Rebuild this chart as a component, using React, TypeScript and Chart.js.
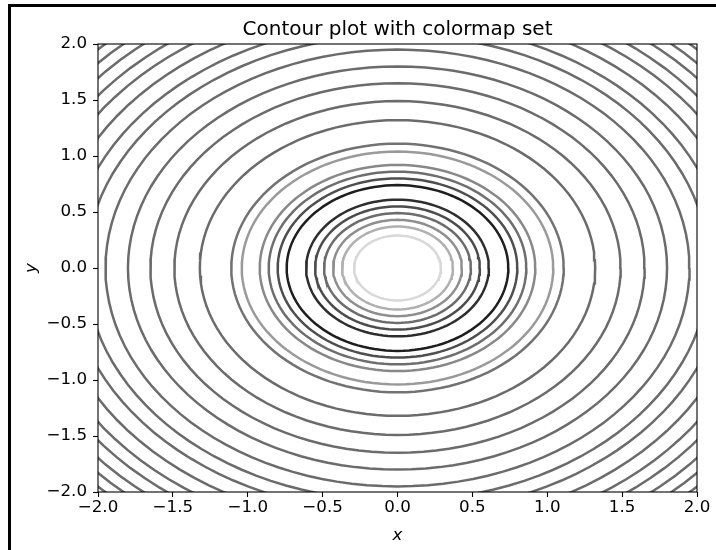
import { useEffect, useRef } from "react";
import { Chart, registerables } from "chart.js";

Chart.register(...registerables);

const chartTitle = "Contour plot with colormap set";
const xAxisLabel = "x";
const yAxisLabel = "y";
const axisMin = -2;
const axisMax = 2;
const tickStep = 0.5;

// Radius of each contour level, outermost first
const contourRadii = [
  2.795, 2.711, 2.623, 2.524, 2.427, 2.313, 2.191, 2.08, 1.95, 1.8, 1.65, 1.49,
  1.32, 1.11, 1.04, 0.92, 0.86, 0.8, 0.74, 0.61, 0.55, 0.49, 0.43, 0.37, 0.29,
];

// Grey of each contour level (same order as the radii)
const contourColors = [
  "#6b6b6b", "#6b6b6b", "#6b6b6b", "#6b6b6b", "#6b6b6b", "#6b6b6b", "#6b6b6b",
  "#6b6b6b", "#6b6b6b", "#6b6b6b", "#6b6b6b", "#6b6b6b", "#6b6b6b", "#727272",
  "#9a9a9a", "#888888", "#6e6e6e", "#4e4e4e", "#1e1e1e", "#2e2e2e", "#4c4c4c",
  "#6c6c6c", "#8e8e8e", "#b0b0b0", "#d8d8d8",
];

const FONT = "'DejaVu Sans', sans-serif";
const SEGMENTS = 120;

function ringPoints(r: number) {
  const pts: { x: number; y: number }[] = [];
  for (let i = 0; i <= SEGMENTS; i++) {
    const a = (i / SEGMENTS) * Math.PI * 2;
    pts.push({ x: r * Math.cos(a), y: r * Math.sin(a) });
  }
  return pts;
}

const fmtTick = (v: number | string) => {
  const n = Number(v);
  const s = Math.abs(n).toFixed(1);
  return n < -1e-9 ? "\u2212" + s : s;
};

// Figure edge on the top and left, plus the four axes spines
const framePlugin = {
  id: "frame",
  afterDatasetsDraw(chart: Chart) {
    const { ctx, chartArea } = chart;
    ctx.save();
    ctx.strokeStyle = "#000";
    ctx.lineWidth = 1.1;
    ctx.strokeRect(
      chartArea.left,
      chartArea.top,
      chartArea.right - chartArea.left,
      chartArea.bottom - chartArea.top
    );
    ctx.restore();
  },
  afterDraw(chart: Chart) {
    const { ctx, width, height } = chart;
    ctx.save();
    ctx.fillStyle = "#000";
    ctx.fillRect(8, 4, width - 8, 3);
    ctx.fillRect(8, 4, 3, height - 4);
    ctx.restore();
  },
};

export default function App() {
  const canvasRef = useRef<HTMLCanvasElement | null>(null);

  useEffect(() => {
    const canvas = canvasRef.current;
    if (!canvas) return;

    const datasets = contourRadii.map((r, i) => ({
      label: `level ${i}`,
      data: ringPoints(r),
      borderColor: contourColors[i],
      borderWidth: 2.5,
      pointRadius: 0,
      pointHoverRadius: 0,
      fill: false,
      tension: 0,
      showLine: true,
      clip: 0,
    }));

    const tickFont = { family: FONT, size: 16.7, lineHeight: 1 };
    const titleFont = { family: FONT, size: 16.7, style: "italic" as const };

    const chart = new Chart(canvas, {
      type: "scatter",
      data: { datasets },
      options: {
        animation: false,
        responsive: false,
        events: [],
        layout: { padding: { left: 0, right: 19, top: 0, bottom: 0 } },
        plugins: {
          legend: { display: false },
          tooltip: { enabled: false },
          title: {
            display: true,
            fullSize: false,
            text: chartTitle,
            color: "#000",
            font: { family: FONT, size: 20, weight: "normal" },
            padding: { top: 18, bottom: 2 },
          },
        },
        scales: {
          x: {
            type: "linear",
            min: axisMin,
            max: axisMax,
            afterFit(scale: any) {
              scale.height = 58;
            },
            ticks: {
              stepSize: tickStep,
              color: "#000",
              font: tickFont,
              padding: 2,
              maxRotation: 0,
              callback: fmtTick,
            },
            grid: {
              display: true,
              drawOnChartArea: false,
              drawTicks: true,
              tickLength: 5,
              tickColor: "#000",
              tickWidth: 1.1,
            },
            border: { display: false },
            title: {
              display: true,
              text: xAxisLabel,
              color: "#000",
              font: titleFont,
              padding: { top: 0, bottom: 4 },
            },
          },
          y: {
            type: "linear",
            min: axisMin,
            max: axisMax,
            afterFit(scale: any) {
              scale.width = 98;
            },
            ticks: {
              stepSize: tickStep,
              color: "#000",
              font: tickFont,
              padding: 6,
              callback: fmtTick,
            },
            grid: {
              display: true,
              drawOnChartArea: false,
              drawTicks: true,
              tickLength: 5,
              tickColor: "#000",
              tickWidth: 1.1,
            },
            border: { display: false },
            title: {
              display: true,
              text: yAxisLabel,
              color: "#000",
              font: titleFont,
              padding: { top: 22, bottom: 0 },
            },
          },
        },
      },
      plugins: [framePlugin],
    });

    return () => chart.destroy();
  }, []);

  return (
    <div
      style={{
        position: "absolute",
        left: 0,
        top: 0,
        width: 716,
        height: 550,
        background: "#fff",
      }}
    >
      <canvas ref={canvasRef} width={716} height={550} />
    </div>
  );
}
